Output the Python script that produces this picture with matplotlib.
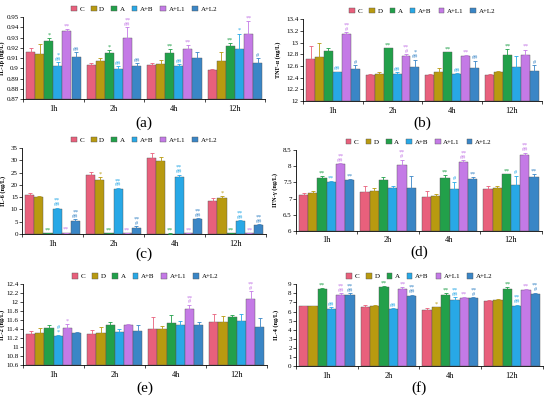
import numpy as np
import matplotlib.pyplot as plt

plt.rcParams['font.family'] = ['Liberation Serif', 'DejaVu Serif']

groups = ['C', 'D', 'A', 'A+B', 'A+L1', 'A+L2']
times = ['1h', '2h', '4h', '12h']
colors = ['#e8607c', '#b89a10', '#22a04a', '#28a8e6', '#c47ae6', '#3a86c6']

# IL-1beta
il1b = [[0.916, 0.903, 0.903, 0.898],
        [0.914, 0.907, 0.904, 0.907],
        [0.927, 0.915, 0.915, 0.922],
        [0.902, 0.899, 0.902, 0.919],
        [0.936, 0.930, 0.919, 0.934],
        [0.911, 0.902, 0.910, 0.905]]
il1b_err = [[0.004, 0.002, 0.002, 0.001],
            [0.010, 0.003, 0.004, 0.009],
            [0.003, 0.003, 0.004, 0.003],
            [0.004, 0.003, 0.002, 0.015],
            [0.002, 0.010, 0.004, 0.012],
            [0.005, 0.003, 0.006, 0.005]]
il1b_sig = [['', '', '', ''],
            ['', '', '', ''],
            ['*', '*', '**', '**'],
            ['*\n##', '##', '##', '*'],
            ['**', '**\n##', '**', '**'],
            ['##', '##', '', '#']]

# TNF-alpha
tnf = [[12.72, 12.45, 12.45, 12.45],
       [12.75, 12.47, 12.49, 12.49],
       [12.85, 12.90, 12.83, 12.78],
       [12.49, 12.47, 12.46, 12.59],
       [13.15, 12.77, 12.77, 12.79],
       [12.55, 12.59, 12.57, 12.52]]
tnf_err = [[0.22, 0.01, 0.01, 0.01],
           [0.25, 0.02, 0.07, 0.03],
           [0.05, 0.01, 0.01, 0.11],
           [0.01, 0.02, 0.02, 0.18],
           [0.03, 0.03, 0.01, 0.09],
           [0.06, 0.12, 0.12, 0.09]]
tnf_sig = [['', '', '', ''],
           ['', '', '', ''],
           ['', '**', '**', '**'],
           ['##', '##', '##', ''],
           ['**\n#', '**\n#', '**', '**'],
           ['#', '*\n##', '##', '#']]

# IL-6
il6 = [[15.8, 24.0, 30.8, 13.3],
       [15.0, 22.0, 29.8, 14.6],
       [0.3, 0.3, 0.2, 0.3],
       [10.2, 18.4, 23.4, 5.3],
       [0.5, 0.3, 0.3, 0.3],
       [5.5, 2.6, 6.0, 3.5]]
il6_err = [[0.7, 1.4, 2.2, 1.2],
           [0.5, 1.3, 1.4, 1.0],
           [0.1, 0.1, 0.1, 0.1],
           [0.5, 0.4, 0.8, 0.4],
           [0.1, 0.1, 0.1, 0.1],
           [0.6, 0.6, 0.5, 0.5]]
il6_sig = [['', '', '', ''],
           ['', '*', '', '*'],
           ['**', '**', '**', '**'],
           ['**\n##', '**\n##', '**\n##', '**\n##'],
           ['**', '**', '**', '**'],
           ['**\n##', '**\n#', '**\n##', '**\n##']]

# IFN-gamma
ifn = [[7.10, 7.20, 7.06, 7.28],
       [7.18, 7.22, 7.07, 7.33],
       [7.65, 7.56, 7.62, 7.75],
       [7.50, 7.32, 7.30, 7.42],
       [8.06, 8.04, 8.13, 8.36],
       [7.56, 7.33, 7.61, 7.67]]
ifn_err = [[0.07, 0.18, 0.17, 0.12],
           [0.05, 0.12, 0.07, 0.06],
           [0.05, 0.12, 0.12, 0.02],
           [0.05, 0.06, 0.22, 0.28],
           [0.04, 0.16, 0.06, 0.06],
           [0.04, 0.37, 0.05, 0.08]]
ifn_sig = [['', '', '', ''],
           ['', '', '', ''],
           ['**', '', '**', '**'],
           ['**', '', '#', '#'],
           ['**\n##', '**\n#', '**\n##', '**\n##'],
           ['**', '', '**', '**']]

# IL-2
il2 = [[11.29, 11.29, 11.40, 11.55],
       [11.31, 11.31, 11.41, 11.56],
       [11.43, 11.50, 11.54, 11.66],
       [11.25, 11.34, 11.48, 11.58],
       [11.43, 11.48, 11.85, 12.07],
       [11.32, 11.36, 11.48, 11.45]]
il2_err = [[0.06, 0.09, 0.27, 0.19],
           [0.11, 0.14, 0.05, 0.12],
           [0.07, 0.06, 0.17, 0.06],
           [0.02, 0.07, 0.11, 0.16],
           [0.08, 0.04, 0.09, 0.17],
           [0.01, 0.13, 0.07, 0.19]]
il2_sig = [['', '', '', ''],
           ['', '', '', ''],
           ['', '', '', ''],
           ['#\n*', '', '', ''],
           ['*', '', '**\n#', '**\n#'],
           ['', '', '', '']]

# IL-4
il4 = [[6.55, 6.50, 6.15, 7.15],
       [6.55, 6.60, 6.45, 7.25],
       [8.45, 8.65, 7.80, 8.50],
       [6.30, 6.25, 7.30, 6.60],
       [7.85, 8.50, 7.50, 8.40],
       [7.85, 7.75, 7.45, 7.95]]
il4_err = [[0.10, 0.25, 0.20, 0.15],
           [0.08, 0.10, 0.08, 0.12],
           [0.12, 0.10, 0.20, 0.15],
           [0.15, 0.10, 0.30, 0.15],
           [0.15, 0.15, 0.10, 0.08],
           [0.15, 0.10, 0.10, 0.12]]
il4_sig = [['', '', '', ''],
           ['', '', '*', ''],
           ['**', '**', '**', '**'],
           ['##', '##', '**\n##', '**\n##'],
           ['**\n##', '**', '**', '**'],
           ['**\n##', '**\n##', '**\n#', '**\n#']]

# data, errors, marks, label, y-range, tick step, tag, axes rect, label offset (px), tag offset (px)
panels = [
    (il1b, il1b_err, il1b_sig, 'IL-1β (ng/L)', (0.87, 0.95), 0.01, '(a)', [0.042, 0.751, 0.440, 0.206], 18, 24),
    (tnf, tnf_err, tnf_sig, 'TNF-α (ng/L)', (12.0, 13.4), 0.2, '(b)', [0.551, 0.746, 0.434, 0.206], 22, 22),
    (il6, il6_err, il6_sig, 'IL-6 (ng/L)', (0, 35), 5, '(c)', [0.040, 0.412, 0.444, 0.216], 16, 20),
    (ifn, ifn_err, ifn_sig, 'IFN-γ (ng/L)', (6.0, 8.5), 0.5, '(d)', [0.538, 0.420, 0.447, 0.203], 18, 21),
    (il2, il2_err, il2_sig, 'IL-2 (ng/L)', (10.6, 12.4), 0.2, '(e)', [0.042, 0.083, 0.444, 0.203], 18, 23),
    (il4, il4_err, il4_sig, 'IL-4 (ng/L)', (0, 9), 1, '(f)', [0.538, 0.080, 0.449, 0.206], 17, 22),
]

fig = plt.figure(figsize=(5.5, 3.98), dpi=100)
x = np.arange(len(times))
w = 0.15

for vals, errs, sigs, ylabel, ylim, step, tag, pos, loff, toff in panels:
    ax = fig.add_axes(pos)
    span = ylim[1] - ylim[0]
    for i, g in enumerate(groups):
        xs = x + (i - 2.5) * w
        ax.bar(xs, np.array(vals[i]) - ylim[0], w, bottom=ylim[0], color=colors[i],
               edgecolor='#555555', linewidth=0.3, label=g, zorder=2)
        ax.errorbar(xs, vals[i], yerr=[np.zeros(4), errs[i]], fmt='none',
                    ecolor=colors[i], elinewidth=0.6, capsize=1.2, capthick=0.6, zorder=3)
        for j in range(4):
            if sigs[i][j]:
                ax.text(xs[j], vals[i][j] + errs[i][j] + span * 0.005, sigs[i][j],
                        ha='center', va='bottom', fontsize=4.5, color=colors[i],
                        linespacing=0.8, zorder=4)
    ax.set_ylim(*ylim)
    ax.set_xlim(-0.5, 3.5)
    ticks = np.arange(ylim[0], ylim[1] + step / 2, step)
    ax.set_yticks(ticks)
    ax.set_yticklabels([('%g' % round(t, 3)) for t in ticks], fontsize=5)
    ax.set_xticks(x)
    ax.set_xticklabels(times, fontsize=6)
    ax.set_xticks(np.arange(-0.5, 4, 1), minor=True)
    ax.tick_params(axis='x', which='major', length=0, pad=4)
    ax.tick_params(axis='x', which='minor', length=2, width=0.5)
    ax.tick_params(axis='y', length=2, width=0.5, pad=1)
    ax.set_ylabel(ylabel, fontsize=4.5, fontweight='bold')
    ax.yaxis.set_label_coords(-loff / (pos[2] * 550), 0.5)
    for s in ['top', 'right']:
        ax.spines[s].set_visible(False)
    for s in ['left', 'bottom']:
        ax.spines[s].set_linewidth(0.6)
    ax.legend(loc='lower center', bbox_to_anchor=(0.5, 1.0), ncol=6, frameon=False,
              fontsize=5, handlelength=0.8, handleheight=0.8, handletextpad=0.4,
              columnspacing=1.0, borderaxespad=0.3)
    ax.annotate(tag, xy=(0.5, 0), xycoords='axes fraction', xytext=(0, -toff),
                textcoords='offset pixels', ha='center', va='center', fontsize=11)

fig.savefig('out.png', dpi=100)
